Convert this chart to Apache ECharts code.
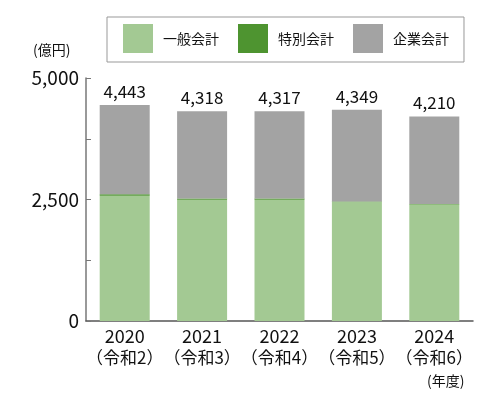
<!DOCTYPE html>
<html>
<head>
<meta charset="utf-8">
<script src="https://cdn.jsdelivr.net/npm/echarts@6/dist/echarts.min.js"></script>
<style>
    html, body { margin: 0; padding: 0; background: #fff; }
    #chart { width: 500px; height: 397px; }
</style>
</head>
<body>
<div id="chart"></div>
<script>
// data (億円)
var years = ['2020', '2021', '2022', '2023', '2024'];
var eras = ['（令和2）', '（令和3）', '（令和4）', '（令和5）', '（令和6）'];
var general = [2577, 2495, 2495, 2450, 2395];
var special = [30, 25, 25, 10, 10];
var enterprise = [1836, 1798, 1797, 1889, 1805];
var totals = [4443, 4318, 4317, 4349, 4210];

var FONT = '"Noto Sans CJK JP", "Noto Sans", sans-serif';

var chart = echarts.init(document.getElementById('chart'));

function fmt(v) {
    return Number(v).toLocaleString('en-US');
}

var option = {
    animation: false,
    textStyle: { fontFamily: FONT },
    grid: { left: 86, right: 27, top: 78, bottom: 76 },
    legend: {
        left: 107,
        top: 17,
        icon: 'rect',
        itemWidth: 30,
        itemHeight: 29,
        itemGap: 19,
        padding: [7, 15, 9, 16],
        borderColor: '#999',
        borderWidth: 1,
        textStyle: { fontSize: 14, color: '#111', fontFamily: FONT, padding: [0, 0, 0, 5] },
        data: ['一般会計', '特別会計', '企業会計']
    },
    xAxis: {
        type: 'category',
        data: years,
        axisLine: { lineStyle: { color: '#555', width: 1.5 } },
        axisTick: { show: false },
        axisLabel: {
            interval: 0,
            hideOverlap: false,
            margin: 5,
            color: '#111',
            formatter: function (v, i) {
                return '{y|' + v + '}\n{e|' + eras[i] + '}';
            },
            rich: {
                y: { fontSize: 18, lineHeight: 21, color: '#111', fontFamily: FONT },
                e: { fontSize: 17, lineHeight: 21, color: '#111', fontFamily: FONT }
            }
        }
    },
    yAxis: {
        type: 'value',
        min: 0,
        max: 5000,
        interval: 1250,
        splitLine: { show: false },
        axisLine: { show: true, lineStyle: { color: '#777', width: 1.5 } },
        axisTick: { show: true, inside: true, length: 5, lineStyle: { color: '#777' } },
        axisLabel: {
            margin: 7,
            fontSize: 19,
            color: '#111',
            formatter: function (v) {
                return v % 2500 === 0 ? fmt(v) : '';
            }
        }
    },
    graphic: [
        { type: 'text', left: 33, top: 43, style: { text: '(億円)', fontSize: 14, fill: '#111', fontFamily: FONT } },
        { type: 'text', left: 427, top: 374, style: { text: '(年度)', fontSize: 14, fill: '#111', fontFamily: FONT } }
    ],
    series: [
        {
            name: '一般会計', type: 'bar', stack: 'total', barWidth: 50,
            itemStyle: { color: '#a3c993' },
            data: general
        },
        {
            name: '特別会計', type: 'bar', stack: 'total', barWidth: 50,
            itemStyle: { color: '#4e9430' },
            data: special
        },
        {
            name: '企業会計', type: 'bar', stack: 'total', barWidth: 50,
            itemStyle: { color: '#a3a3a3' },
            label: {
                show: true,
                position: 'top',
                distance: 5,
                fontSize: 17,
                color: '#111',
                formatter: function (p) {
                    return fmt(totals[p.dataIndex]);
                }
            },
            data: enterprise
        }
    ]
};

chart.setOption(option);
</script>
</body>
</html>
